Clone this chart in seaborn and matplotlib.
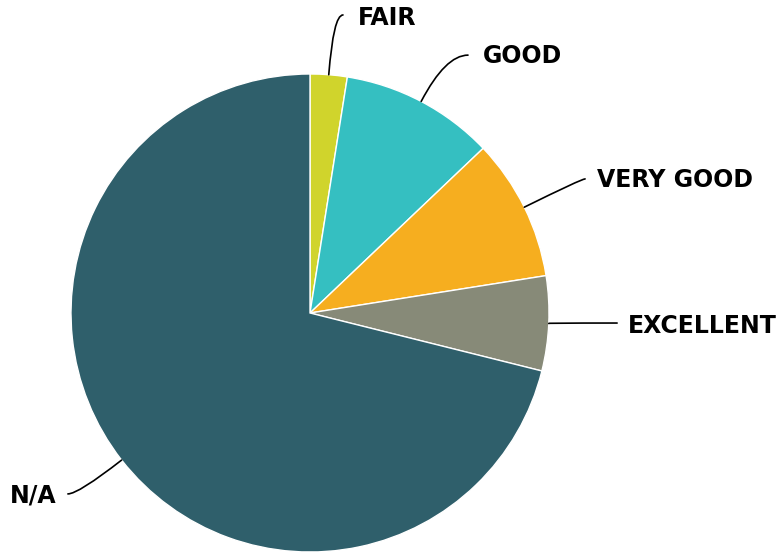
import numpy as np
import matplotlib
matplotlib.use("Agg")
import matplotlib.pyplot as plt
import seaborn as sns

# Ratings share (percent), clockwise from the top
categories = ["FAIR", "GOOD", "VERY GOOD", "EXCELLENT", "N/A"]
shares = [2.5, 10.4, 9.6, 6.4, 71.1]
slice_colors = ["#D0D42C", "#35BFC1", "#F6AE1F", "#878A78", "#2F5F6B"]

sns.set_theme(style="white")
plt.rcParams["font.family"] = ["DejaVu Sans"]

palette = sns.color_palette(slice_colors)

fig = plt.figure(figsize=(7.83, 5.52), dpi=100)
ax = fig.add_axes([0, 0, 1, 1])

wedges, _ = ax.pie(
    shares,
    colors=palette,
    startangle=90,
    counterclock=False,
    radius=1.0,
    center=(0, 0),
    wedgeprops=dict(edgecolor="white", linewidth=1.0),
)

ax.set_xlim(-1.297, 1.979)
ax.set_ylim(-1.0, 1.3096)
ax.set_aspect("equal")
ax.axis("off")

# Leader-line end points and label anchors (data units)
leader_ends = {
    "FAIR": (0.138, 1.247),
    "GOOD": (0.661, 1.079),
    "VERY GOOD": (1.151, 0.561),
    "EXCELLENT": (1.285, -0.042),
    "N/A": (-1.013, -0.757),
}
label_anchors = {
    "FAIR": (0.201, 1.205, "left"),
    "GOOD": (0.724, 1.046, "left"),
    "VERY GOOD": (1.201, 0.527, "left"),
    "EXCELLENT": (1.331, -0.084, "left"),
    "N/A": (-1.059, -0.791, "right"),
}

for wedge, name in zip(wedges, categories):
    mid = 0.5 * (wedge.theta1 + wedge.theta2)
    px, py = np.cos(np.radians(mid)), np.sin(np.radians(mid))
    ex, ey = leader_ends[name]
    ax.annotate(
        "",
        xy=(px, py),
        xytext=(ex, ey),
        arrowprops=dict(
            arrowstyle="-",
            connectionstyle=f"angle3,angleA=0,angleB={mid:.2f}",
            color="black",
            lw=1.2,
            shrinkA=0,
            shrinkB=0,
        ),
        annotation_clip=False,
    )
    tx, ty, ha = label_anchors[name]
    ax.text(tx, ty, name, ha=ha, va="baseline", fontsize=17,
            fontweight="bold", color="black")

fig.savefig("out.png", dpi=100)
